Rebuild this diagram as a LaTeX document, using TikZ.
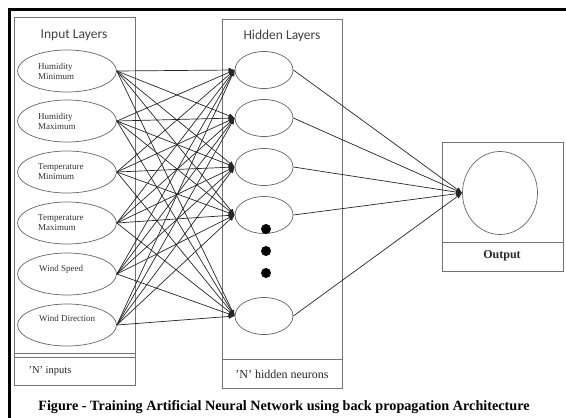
\documentclass[tikz,border=0pt]{standalone}
\usepackage{fontspec}
\setmainfont{Liberation Serif}
\newfontfamily\headfont{Carlito}
\usetikzlibrary{arrows.meta,shapes.geometric}
\begin{document}
\begin{tikzpicture}[x=1pt,y=-1pt,
  box/.style={draw=black!55,line width=0.8pt},
  inell/.style={ellipse,draw=black!60,line width=0.7pt,minimum width=99pt,minimum height=42pt,inner sep=0pt},
  hidell/.style={ellipse,draw=black!60,line width=0.7pt,minimum width=58pt,minimum height=37pt,inner sep=0pt},
  outell/.style={ellipse,draw=black!60,line width=0.7pt,minimum width=75pt,minimum height=83pt,inner sep=0pt},
  intext/.style={anchor=west,align=left,font=\fontsize{9}{10}\selectfont,text=black!80,inner sep=0pt},
  head/.style={font=\headfont\fontsize{13.5}{15}\selectfont,text=black!75},
  link/.style={draw=black!85,line width=0.7pt,-{Latex[length=6pt,width=5pt]}},
  dot/.style={circle,fill=black,minimum size=10pt,inner sep=0pt}]
\useasboundingbox (0,0) rectangle (566,418);
% outer frame
\draw[line width=3pt,line cap=rect] (9,418) -- (9,9) -- (566,9);
% boxes
\draw[box] (14,17) rectangle (135,385);
\draw[box] (14,353) -- (135,353);
\draw[box] (14,357) -- (135,357);
\draw[box] (222,19) rectangle (342,388);
\draw[box] (222,359) -- (342,359);
\draw[box] (442,142) rectangle (563,271);
\draw[box] (442,242) -- (563,242);
% headings
\node[head] (hin) at (74,35) {Input Layers};
\node[head] (hhid) at (282,36) {Hidden Layers};
% input nodes
\node[inell] (i1) at (67,71) {};
\node[inell] (i2) at (67,121) {};
\node[inell] (i3) at (67,172) {};
\node[inell] (i4) at (67,223) {};
\node[inell] (i5) at (67,274) {};
\node[inell] (i6) at (67,325) {};
\node[intext] (t1) at (38,71) {Humidity\\Minimum};
\node[intext] (t2) at (38,121) {Humidity\\Maximum};
\node[intext] (t3) at (38,172) {Temperature\\Minimum};
\node[intext] (t4) at (38,223) {Temperature\\Maximum};
\node[intext] (t5) at (39,269) {Wind Speed};
\node[intext] (t6) at (39,318) {Wind Direction};
% hidden nodes
\node[hidell] (h1) at (264,70) {};
\node[hidell] (h2) at (264,118) {};
\node[hidell] (h3) at (264,167) {};
\node[hidell] (h4) at (264,215) {};
\node[hidell] (h5) at (264,316) {};
\node[dot] (d1) at (266,229) {};
\node[dot] (d2) at (266,251) {};
\node[dot] (d3) at (266,273) {};
% output
\node[outell] (o) at (500,193) {};
% labels
\node[anchor=west,font=\fontsize{10.5}{12}\selectfont,text=black!85] (nin) at (25,371) {'N' inputs};
\node[font=\fontsize{12}{13}\selectfont,text=black!85] (nhid) at (282,374) {'N' hidden neurons};
\node[font=\bfseries\fontsize{12}{13}\selectfont,text=black!85] (outl) at (502,256) {Output};
\node[font=\bfseries\fontsize{14.2}{16}\selectfont] (cap) at (284,407) {Figure - Training Artificial Neural Network using back propagation Architecture};
% connections
\foreach \i in {1,...,6}{
  \foreach \h in {1,...,5}{
    \draw[link] (i\i.east) -- (h\h.west);
  }
}
\foreach \h in {1,...,5}{
  \draw[link] (h\h.east) -- (o.west);
}
\end{tikzpicture}
\end{document}
